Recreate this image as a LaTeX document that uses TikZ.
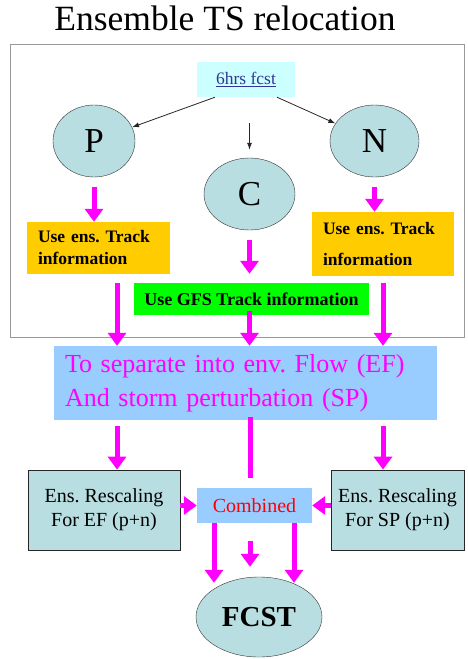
\documentclass[tikz,border=0pt]{standalone}
\usepackage{fontspec}
\setmainfont{Liberation Serif}
\usetikzlibrary{arrows.meta,shapes.geometric}
\definecolor{cellteal}{RGB}{185,222,225}
\definecolor{paleblue}{RGB}{153,204,255}
\definecolor{palecyan}{RGB}{204,255,255}
\definecolor{trackyellow}{RGB}{255,204,0}
\definecolor{linkblue}{RGB}{51,51,153}
\definecolor{flowpink}{RGB}{255,0,255}
\definecolor{gfsgreen}{RGB}{0,255,0}
\definecolor{combred}{RGB}{255,0,0}
\frenchspacing

\begin{document}
\begin{tikzpicture}[x=1pt,y=-1pt,
    member/.style={ellipse,draw=black!80,fill=cellteal,inner sep=0pt,font=\fontsize{35}{40}\selectfont},
    box/.style={rectangle,inner sep=0pt},
    trackbox/.style={box,fill=trackyellow,align=left,inner xsep=11pt,font=\fontsize{17.5}{22}\selectfont\bfseries},
    rescale/.style={box,draw=black!85,line width=0.8pt,fill=cellteal,align=center,font=\fontsize{20}{24}\selectfont},
    blackarrow/.style={black!85,line width=0.8pt,-{Latex[length=7pt,width=5pt]}},
    pinkarrow/.style={flowpink,line width=5pt,-{Triangle[width=18pt,length=13pt]}}]
\useasboundingbox (0,0) rectangle (467,659);

\node (title) at (225,30) [anchor=base,font=\fontsize{35.5}{40}\selectfont] {Ensemble TS relocation};
\draw[black!40,line width=1pt] (10,44) rectangle (464,337);

\node (fcst) at (246,79.5) [box,fill=palecyan,minimum width=98,minimum height=35,
    text=linkblue,font=\fontsize{17.5}{20}\selectfont] {\underline{6hrs fcst}};
\node (P) at (94,141) [member,minimum width=82,minimum height=72] {P};
\node (N) at (374.5,141) [member,minimum width=89,minimum height=72] {N};
\node (C) at (249.5,194) [member,minimum width=91,minimum height=72] {C};

\node (useL) at (98.5,248) [trackbox,text width=121,minimum height=52] {Use ens. Track\\information};
\node (useR) at (383,244) [trackbox,text width=120,minimum height=64,
    font=\fontsize{17.5}{31}\selectfont\bfseries] {Use ens. Track\\information};
\node (gfs) at (251.5,299) [box,fill=gfsgreen,minimum width=235,minimum height=32,
    font=\fontsize{18}{22}\selectfont\bfseries] {Use GFS Track information};

\node (sep) at (245.5,383) [box,fill=paleblue,text width=361,inner xsep=11pt,minimum height=74,
    align=left,text=flowpink,font=\fontsize{26}{34}\selectfont] {To separate into env. Flow (EF)\\And storm perturbation (SP)};

\node (resL) at (104,510) [rescale,minimum width=152,minimum height=80] {Ens. Rescaling\\For EF (p+n)};
\node (resR) at (397.5,510) [rescale,minimum width=133,minimum height=80] {Ens. Rescaling\\For SP (p+n)};
\node (comb) at (254.5,505.5) [box,fill=paleblue,minimum width=115,minimum height=35,
    text=combred,font=\fontsize{20}{22}\selectfont] {Combined};
\node (out) at (259,617) [member,minimum width=126,minimum height=80,
    font=\fontsize{29}{32}\selectfont\bfseries] {FCST};

\draw[blackarrow] ([xshift=-31]fcst.south) -- (P);
\draw[blackarrow] ([xshift=31]fcst.south) -- (N);
\draw[blackarrow,shorten <=26pt,shorten >=8pt] (fcst.south -| C.north) -- (C.north);

\draw[pinkarrow,shorten <=10pt] (P) -- (P |- useL.north);
\draw[pinkarrow,shorten <=10pt] (N) -- (N |- useR.north);
\draw[pinkarrow,shorten <=10pt,shorten >=9pt] (C) -- (C |- gfs.north);

\draw[pinkarrow,shorten <=9pt] ([xshift=18.5]useL.south) -- ([xshift=18.5]useL.south |- sep.north);
\draw[pinkarrow,shorten <=-4pt] (gfs.south -| C.south) -- (C.south |- sep.north);
\draw[pinkarrow,shorten <=7pt] (useR) -- (useR |- sep.north);

\draw[pinkarrow,shorten <=6pt] ([xshift=13]resL.north |- sep.south) -- ([xshift=13]resL.north);
\draw[pinkarrow,shorten <=6pt] ([xshift=-14.5]resR.north |- sep.south) -- ([xshift=-14.5]resR.north);
\draw[flowpink,line width=5pt,shorten <=-3pt,shorten >=10pt] ([xshift=-4.5]comb.north |- sep.south) -- ([xshift=-4.5]comb.north);

\draw[pinkarrow] (resL.east |- comb.west) -- (comb.west);
\draw[pinkarrow] (resR.west |- comb.east) -- (comb.east);

\draw[pinkarrow,shorten >=-6pt] ([xshift=-40.5]comb.south) -- ([xshift=-40.5]comb.south |- out.north);
\draw[pinkarrow,shorten <=18pt,shorten >=10pt] ([xshift=-4.5]comb.south) -- ([xshift=-4.5]comb.south |- out.north);
\draw[pinkarrow,shorten >=-6pt] ([xshift=39.5]comb.south) -- ([xshift=39.5]comb.south |- out.north);
\end{tikzpicture}
\end{document}
